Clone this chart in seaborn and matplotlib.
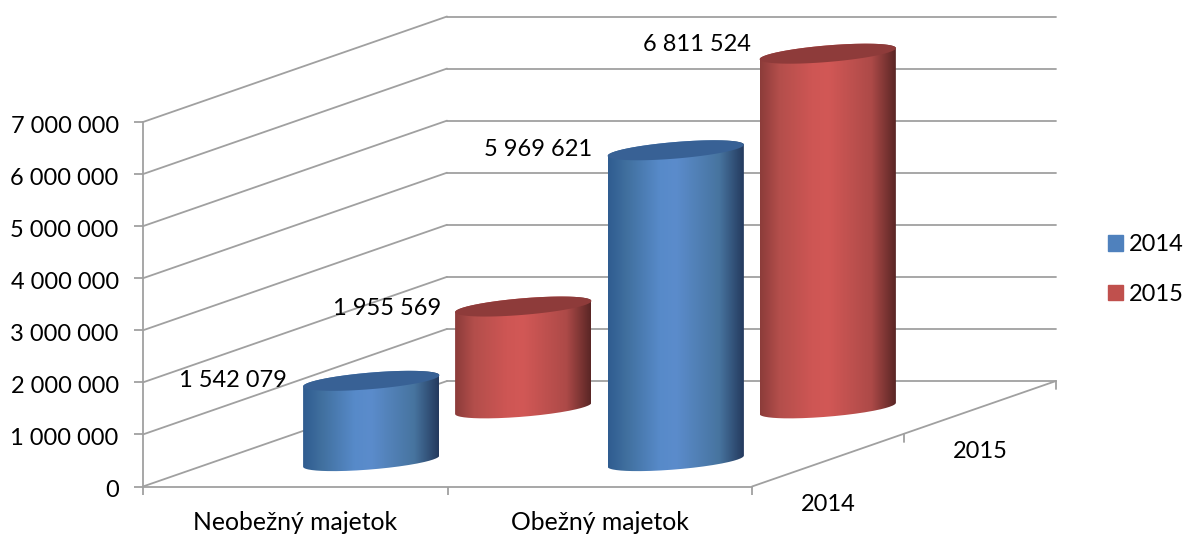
"""3D-looking cylinder chart of assets per year, drawn on a flat axes with depth offsets."""
import numpy as np
import pandas as pd
import seaborn as sns
from matplotlib import pyplot as plt
from matplotlib.colors import LinearSegmentedColormap
from matplotlib.patches import Patch
from matplotlib.path import Path
from matplotlib.transforms import Affine2D, ScaledTranslation

CATEGORIES = ["Neobežný majetok", "Obežný majetok"]
YEARS = ["2014", "2015"]
VALUES_2014 = [1542079, 5969621]
VALUES_2015 = [1955569, 6811524]
Y_TICKS = [0, 1000000, 2000000, 3000000, 4000000, 5000000, 6000000, 7000000]

LABEL_OFFSETS = {"2014": [(-16, -1), (-16, 0)], "2015": [(-14, -3), (-9, 8)]}
BODY_STOPS = {
    "2014": ["#2f5c90", "#41709f", "#578ac9", "#5b8ccc", "#47749f", "#243a5e"],
    "2015": ["#8c3c3a", "#b34e4b", "#ce5654", "#d25856", "#ad4a48", "#5a2625"],
}
STOP_POSITIONS = [0, 0.14, 0.38, 0.5, 0.82, 1]
LEGEND_COLORS = {"2014": "#4f81bd", "2015": "#c0504d"}
CAP_COLORS = {"2014": "#386195", "2015": "#8e3b3a"}
GRID_COLOR = "#a0a0a0"
FONT_SIZE = 17

# one depth slot moves a point this far on the axes (data units)
DEPTH_X = 152 / 304.5
DEPTH_Y = 52.75 * 7e6 / 364.5
Y_PER_PX = 7e6 / 364.5

sns.set_theme(style="ticks", font="Lato")
plt.rcParams["text.color"] = "black"
plt.rcParams["xtick.labelcolor"] = "black"
plt.rcParams["ytick.labelcolor"] = "black"

data = pd.DataFrame(
    {
        "category": CATEGORIES * 2,
        "year": [YEARS[0]] * 2 + [YEARS[1]] * 2,
        "value": VALUES_2014 + VALUES_2015,
    }
)

fig = plt.figure(figsize=(11.85, 5.34), dpi=100)
ax = fig.add_axes([143 / 1185, 1 - 486.5 / 534, 609 / 1185, 364.5 / 534])
ax.patch.set_visible(False)


def depth_transform(depth):
    return Affine2D().translate(DEPTH_X * depth, DEPTH_Y * depth) + ax.transData


# walls and floor
line_kws = dict(color=GRID_COLOR, lw=1.3, clip_on=False, zorder=1)
for tick in Y_TICKS:
    ax.plot(
        [-0.5, -0.5 + 2 * DEPTH_X],
        [tick, tick + 2 * DEPTH_Y],
        **line_kws,
    )
    ax.plot([-0.5, 1.5], [tick, tick], transform=depth_transform(2), **line_kws)
ax.plot([1.5, 1.5 + 2 * DEPTH_X], [0, 2 * DEPTH_Y], **line_kws)
for depth in (1, 2):
    ax.plot(
        [1.5, 1.5], [0, -8 * Y_PER_PX], transform=depth_transform(depth), **line_kws
    )

# tilted ellipse used for the bottom and top of each cylinder
t0 = np.arctan2(26, 63)


def ring(center, y, radius, start, stop):
    t = np.linspace(start, stop, 80)
    xs = center + radius * (63 * np.cos(t) + 26 * np.sin(t)) / 68
    ys = y + (2 * np.cos(t) + 9.8 * np.sin(t) - 1) * Y_PER_PX
    return np.column_stack([xs, ys])


ramp = np.linspace(0, 1, 256)[None, :]
for year, depth in zip(YEARS[::-1], (1.5, 0.5)):
    year_data = data[data["year"] == year]
    trans = depth_transform(depth)
    n_before = len(ax.patches)
    sns.barplot(
        data=year_data,
        x="category",
        y="value",
        order=CATEGORIES,
        width=136 / 304.5,
        color=LEGEND_COLORS[year],
        transform=trans,
        ax=ax,
    )
    cmap = LinearSegmentedColormap.from_list(
        year, list(zip(STOP_POSITIONS, BODY_STOPS[year]))
    )
    for i, bar in enumerate(ax.patches[n_before:]):
        bar.set_visible(False)
        radius = bar.get_width() / 2
        center = bar.get_x() + radius
        height = bar.get_height()
        outline = np.vstack(
            [
                ring(center, 0, radius, t0 + np.pi, t0 + 2 * np.pi),
                ring(center, height, radius, t0, t0 + np.pi),
            ]
        )
        image = ax.imshow(
            ramp,
            cmap=cmap,
            aspect="auto",
            extent=(
                center - radius,
                center + radius,
                -20 * Y_PER_PX,
                height + 20 * Y_PER_PX,
            ),
            transform=trans,
            zorder=3,
        )
        # the tall cylinder leaves the axes, so clip to the figure and the outline only
        image.set_clip_box(fig.bbox)
        image.set_clip_path(Path(outline), trans)
        cap = ring(center, height, radius, 0, 2 * np.pi)
        ax.fill(
            cap[:, 0],
            cap[:, 1],
            color=CAP_COLORS[year],
            lw=0,
            transform=trans,
            clip_on=False,
            zorder=4,
        )
        ax.annotate(
            f"{int(height):,}".replace(",", " "),
            xy=(center - radius, height),
            xycoords=trans,
            xytext=LABEL_OFFSETS[year][i],
            textcoords="offset pixels",
            ha="right",
            va="center",
            fontsize=FONT_SIZE,
            annotation_clip=False,
            zorder=5,
        )

# depth axis labels
for year, depth in zip(YEARS, (0.5, 1.5)):
    ax.annotate(
        year,
        xy=(1.5, 0),
        xycoords=depth_transform(depth),
        xytext=(0, -44),
        textcoords="offset pixels",
        ha="center",
        va="center",
        fontsize=FONT_SIZE,
        annotation_clip=False,
    )

ax.set_xlim(-0.5, 1.5)
ax.set_ylim(0, 7000000)
ax.set_xlabel("")
ax.set_ylabel("")
ax.set_yticks(Y_TICKS)
ax.set_yticklabels([f"{tick:,}".replace(",", " ") for tick in Y_TICKS])
ax.set_xticks([0, 1])
ax.set_xticklabels(CATEGORIES)
ax.set_xticks([-0.5, 0.5, 1.5], minor=True)
ax.tick_params(axis="y", length=6.5, width=1.3, color=GRID_COLOR, pad=11, labelsize=FONT_SIZE)
ax.tick_params(axis="x", which="major", length=0, pad=18, labelsize=17.8)
ax.tick_params(axis="x", which="minor", length=5.8, width=1.3, color=GRID_COLOR)
sns.despine(ax=ax)
for side in ("left", "bottom"):
    ax.spines[side].set_color(GRID_COLOR)
    ax.spines[side].set_linewidth(1.3)
# Lato sits a little high against the ticks
nudge = ScaledTranslation(0, -1.5 / 72, fig.dpi_scale_trans)
for label in ax.get_yticklabels():
    label.set_transform(label.get_transform() + nudge)

handles = [Patch(color=LEGEND_COLORS[year], label=year) for year in YEARS]
ax.legend(
    handles=handles,
    loc="center left",
    bbox_to_anchor=(1108 / 1185, 1 - 269.5 / 534),
    bbox_transform=fig.transFigure,
    frameon=False,
    fontsize=FONT_SIZE,
    borderpad=0,
    borderaxespad=0,
    handlelength=0.64,
    handleheight=0.64,
    handletextpad=0.25,
    labelspacing=1.2,
)

fig.savefig("out.png", dpi=100)
